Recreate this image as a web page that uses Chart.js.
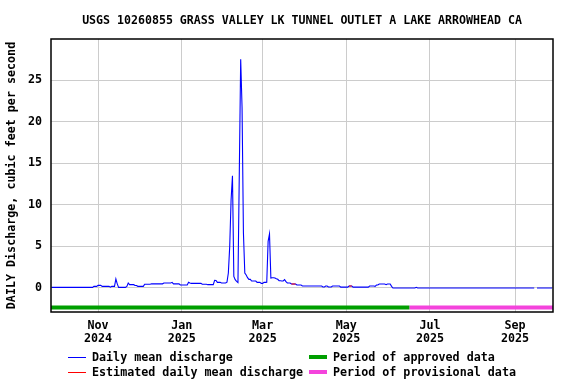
<!DOCTYPE html>
<html><head><meta charset="utf-8">
<script src="https://cdn.jsdelivr.net/npm/chart.js@4.4.1/dist/chart.umd.min.js"></script>
<style>
html,body{margin:0;padding:0;background:#fff;}
#wrap{position:relative;width:576px;height:384px;overflow:hidden;background:#fff;}
canvas{position:absolute;left:0;top:0;}
.t{position:absolute;font-family:"DejaVu Sans Mono",monospace;font-weight:bold;font-size:11.7px;color:#000;white-space:pre;line-height:14px;}
.sw{position:absolute;}
</style></head><body>
<div id="wrap">
<canvas id="c" width="576" height="384"></canvas>
<div class="t" id="title" style="left:51px;width:502px;top:13px;text-align:center;font-size:11.6px;">USGS 10260855 GRASS VALLEY LK TUNNEL OUTLET A LAKE ARROWHEAD CA</div>
<div id="legend"></div>
</div>
<script>
// ---- data ----
const startDate = '2024-09-28';           // first daily value
const dailyMean = [
  // Sep 28-30 2024
  0.08,0.08,0.08,
  // Oct 2024
  0.08,0.08,0.08,0.08,0.08,0.08,0.08,0.08,0.08,0.08,0.08,0.08,0.08,0.08,0.08,0.08,0.08,0.08,0.08,0.08,0.08,0.08,0.08,0.08,0.08,0.08,0.08,0.08,0.2,0.2,0.2,
  // Nov 2024
  0.32,0.32,0.32,0.2,0.2,0.2,0.2,0.2,0.2,0.1,0.2,0.2,0.2,1.08,0.5,0.08,0.08,0.08,0.08,0.08,0.08,0.2,0.6,0.4,0.4,0.4,0.4,0.3,0.3,0.2,
  // Dec 2024
  0.2,0.2,0.2,0.2,0.45,0.45,0.45,0.45,0.45,0.5,0.5,0.5,0.5,0.5,0.5,0.5,0.5,0.5,0.6,0.6,0.6,0.6,0.6,0.6,0.68,0.5,0.5,0.5,0.5,0.5,0.36,
  // Jan 2025
  0.36,0.36,0.36,0.36,0.36,0.68,0.6,0.56,0.56,0.56,0.56,0.56,0.56,0.56,0.56,0.45,0.45,0.45,0.45,0.4,0.4,0.4,0.4,0.4,0.92,0.9,0.68,0.68,0.68,0.6,0.6,
  // Feb 2025
  0.6,0.6,0.7,1.8,5.0,10.6,13.5,1.4,1.0,0.8,0.65,14.0,27.5,21.7,6.6,1.8,1.56,1.24,1.04,1.04,0.84,0.84,0.84,0.84,0.68,0.68,0.68,0.56,
  // Mar 2025
  0.56,0.68,0.68,0.7,5.6,6.5,1.2,1.24,1.24,1.2,1.12,1.05,0.88,0.88,0.85,0.85,1.0,0.76,0.6,0.6,0.6,0.48,0.48,0.48,0.48,0.36,0.36,0.36,0.36,0.24,0.24,
  // Apr 2025
  0.24,0.24,0.24,0.24,0.24,0.24,0.24,0.24,0.24,0.24,0.24,0.24,0.24,0.12,0.12,0.24,0.24,0.12,0.12,0.12,0.24,0.24,0.24,0.24,0.24,0.24,0.1,0.1,0.1,0.1,
  // May 2025
  0.1,0.1,0.24,0.24,0.24,0.1,0.1,0.1,0.1,0.1,0.1,0.1,0.1,0.1,0.1,0.1,0.1,0.24,0.24,0.24,0.24,0.2,0.36,0.36,0.48,0.48,0.48,0.48,0.48,0.4,0.48,
  // Jun 2025
  0.48,0.48,0.2,0,0,0,0,0,0,0,0,0,0,0,0,0,0,0,0,0,0.08,0,0,0,0,0,0,0,0,0,
  // Jul 2025
  0,0,0,0,0,0,0,0,0,0,0,0,0,0,0,0,0,0,0,0,0,0,0,0,0,0,0,0,0,0,0,
  // Aug 2025
  0,0,0,0,0,0,0,0,0,0,0,0,0,0,0,0,0,0,0,0,0,0,0,0,0,0,0,0,0,0,0,
  // Sep 1-28 2025
  0,0,0,0,0,0,0,0,0,0,0,0,0,0,0,null,0,0,0,0,0,0,0,0,0,0,0,0
];
const estimatedDates = ['2025-03-22','2025-03-23','2025-03-24','2025-03-25','2025-05-03','2025-05-04','2025-05-05'];
const periodLabels = ['Period of approved data','Period of provisional data'];
const periodStart  = ['2024-09-27','2025-06-16'];
const periodEnd    = ['2025-06-16','2025-09-29'];
const tickDates  = ['2024-11-01','2025-01-01','2025-03-01','2025-05-01','2025-07-01','2025-09-01'];
const tickMonths = ['Nov','Jan','Mar','May','Jul','Sep'];
const tickYears  = ['2024','2025','2025','2025','2025','2025'];
const yTicks = [0,5,10,15,20,25];

// ---- styling constants ----
const PERIOD_BAR_Y = -2.35;
const FONT = {family:'"DejaVu Sans Mono", monospace', size:11.7, weight:'bold'};
const COLORS = {mean:'#0000ff', est:'#ff0000', approved:'#009f00', provisional:'#f444dc'};

function dayIndex(s){
  const p = s.split('-').map(Number), q = startDate.split('-').map(Number);
  return Math.round((Date.UTC(p[0],p[1]-1,p[2]) - Date.UTC(q[0],q[1]-1,q[2]))/86400000);
}
const meanPts = dailyMean.map((v,i)=>({x:i,y:v}));
const estSet = new Set(estimatedDates.map(dayIndex));
const estPts = dailyMean.map((v,i)=>({x:i,y: estSet.has(i) ? v : null}));
const tickIdx = tickDates.map(dayIndex);

const datasets = [
  {label:'Daily mean discharge', data:meanPts, borderColor:COLORS.mean, borderWidth:1.1, pointRadius:0, tension:0, spanGaps:false, order:2},
  {label:'Estimated daily mean discharge', data:estPts, borderColor:COLORS.est, borderWidth:1.1, pointRadius:0, tension:0, spanGaps:false, order:1},
  {label:periodLabels[0], data:[{x:dayIndex(periodStart[0]),y:PERIOD_BAR_Y},{x:dayIndex(periodEnd[0]),y:PERIOD_BAR_Y}], borderColor:COLORS.approved, borderWidth:4, borderCapStyle:'butt', pointRadius:0, order:3},
  {label:periodLabels[1], data:[{x:dayIndex(periodStart[1]),y:PERIOD_BAR_Y},{x:dayIndex(periodEnd[1]),y:PERIOD_BAR_Y}], borderColor:COLORS.provisional, borderWidth:4, borderCapStyle:'butt', pointRadius:0, order:3}
];

const framePlugin = {id:'frame', afterDatasetsDraw(chart){
  const {ctx, chartArea:a} = chart; ctx.save(); ctx.strokeStyle='#000'; ctx.lineWidth=1.5;
  ctx.strokeRect(a.left, a.top, a.right-a.left, a.bottom-a.top); ctx.restore();
}};

new Chart(document.getElementById('c'), {
  type:'line',
  data:{datasets},
  plugins:[framePlugin],
  options:{
    responsive:false, animation:false, devicePixelRatio:1,
    layout:{padding:{top:39,right:23,bottom:0,left:0}},
    plugins:{legend:{display:false}, title:{display:false}, tooltip:{enabled:false}},
    scales:{
      x:{type:'linear', min:-0.3, max:365.7,
        afterFit(s){ s.height = 72; },
        afterBuildTicks(s){ s.ticks = tickIdx.map(v=>({value:v})); },
        ticks:{color:'#000', font:{...FONT, lineHeight:'13px'}, padding:7, maxRotation:0, autoSkip:false,
          callback(v){ const k = tickIdx.indexOf(v); return k<0 ? '' : [tickMonths[k], tickYears[k]]; }},
        grid:{color:'#cccccc', lineWidth:1, drawTicks:false},
        border:{display:false}
      },
      y:{type:'linear', min:-2.885, max:29.93,
        afterFit(s){ s.width = 51; },
        afterBuildTicks(s){ s.ticks = yTicks.map(v=>({value:v})); },
        ticks:{color:'#000', font:FONT, padding:9, callback(v){ return String(v); }},
        grid:{color:'#cccccc', lineWidth:1, drawTicks:false},
        border:{display:false},
        title:{display:true, text:'DAILY Discharge, cubic feet per second', color:'#000', font:FONT, padding:{top:5,bottom:0}}
      }
    }
  }
});

// ---- legend (HTML text) ----
const lg = document.getElementById('legend');
const legendItems = [
  {text:datasets[0].label, color:COLORS.mean, h:1, col:0, row:0},
  {text:datasets[1].label, color:COLORS.est, h:1, col:0, row:1},
  {text:periodLabels[0], color:COLORS.approved, h:4, col:1, row:0},
  {text:periodLabels[1], color:COLORS.provisional, h:4, col:1, row:1}
];
const colX = [68, 309], rowY = [357, 372];
legendItems.forEach(it=>{
  const sw = document.createElement('div'); sw.className='sw';
  sw.style.left = colX[it.col]+'px'; sw.style.width='18px';
  sw.style.top = (rowY[it.row] - it.h/2)+'px'; sw.style.height = it.h+'px';
  sw.style.background = it.color; lg.appendChild(sw);
  const tx = document.createElement('div'); tx.className='t';
  tx.style.left = (colX[it.col]+24)+'px'; tx.style.top = (rowY[it.row]-7)+'px';
  tx.textContent = it.text; lg.appendChild(tx);
});
</script>
</body></html>
